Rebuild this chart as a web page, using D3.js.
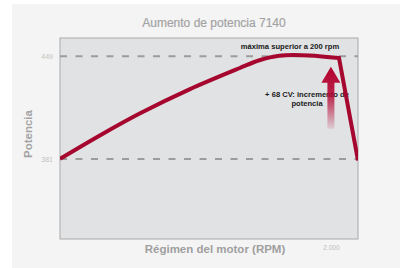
<!DOCTYPE html>
<html>
<head>
<meta charset="utf-8">
<script src="https://cdn.jsdelivr.net/npm/d3@7"></script>
<style>
  body { margin: 0; background: #fff; }
  svg text { font-family: "Liberation Sans", Arial, sans-serif; }
</style>
</head>
<body>
<svg id="chart" width="404" height="268"></svg>
<script>
// engine speed (rpm) and power curve
var rpm   = [1000, 1147, 1294, 1478, 1662, 1736, 1809, 1920, 2030, 2100];
var power = [381, 396.5, 411, 427, 441, 446.3, 449.3, 449.5, 447.7, 380];
var yTicks = [381, 449];
var xTicks = [2000];
var boost = {rpm: 2000, from: 401, to: 442};

var svg = d3.select('#chart');

var margin = {left: 60, top: 38, right: 46, bottom: 29},
    width = 404 - margin.left - margin.right,
    height = 268 - margin.top - margin.bottom;

var x = d3.scaleLinear().domain([1000, 2100]).range([0, width]);
var y = d3.scaleLinear().domain([328, 461]).range([height, 0]);

// outer light panel
svg.append('rect')
    .attr('x', 12).attr('y', 4)
    .attr('width', 388).attr('height', 264)
    .attr('fill', '#f4f4f4');

svg.append('text')
    .attr('x', 214).attr('y', 27)
    .attr('text-anchor', 'middle')
    .attr('font-size', 12)
    .attr('fill', '#a3a3a3')
    .attr('stroke', '#a3a3a3')
    .attr('stroke-width', 0.2)
    .text('Aumento de potencia 7140');

var defs = svg.append('defs');
defs.append('clipPath').attr('id', 'clip')
  .append('rect').attr('width', width).attr('height', height);

var grad = defs.append('linearGradient')
    .attr('id', 'arrowGrad')
    .attr('x1', '0%').attr('y1', '0%')
    .attr('x2', '0%').attr('y2', '100%');
grad.append('stop').attr('offset', '0%').attr('stop-color', '#b3002d').attr('stop-opacity', 1);
grad.append('stop').attr('offset', '45%').attr('stop-color', '#b3002d').attr('stop-opacity', 0.85);
grad.append('stop').attr('offset', '100%').attr('stop-color', '#b3002d').attr('stop-opacity', 0.1);

var g = svg.append('g')
    .attr('transform', 'translate(' + margin.left + ',' + margin.top + ')');

g.append('rect')
    .attr('width', width).attr('height', height)
    .attr('fill', '#e1e2e4')
    .attr('stroke', '#a9a9a9')
    .attr('stroke-width', 1);

// dashed reference lines
g.selectAll('.ref')
    .data(yTicks)
  .enter().append('line')
    .attr('class', 'ref')
    .attr('x1', 0).attr('x2', width)
    .attr('y1', d => y(d)).attr('y2', d => y(d))
    .attr('stroke', '#9c9c9c')
    .attr('stroke-width', 2)
    .attr('stroke-dasharray', '7,8.5');

// y tick labels
var yAxis = d3.axisLeft(y).tickValues(yTicks).tickSize(0).tickPadding(7);
var ya = g.append('g').call(yAxis);
ya.select('.domain').remove();
ya.selectAll('text')
    .attr('font-family', '"DejaVu Serif", serif')
    .attr('font-size', 7)
    .attr('fill', '#c2c2c2');

// x tick label
var xAxis = d3.axisBottom(x).tickValues(xTicks).tickSize(0).tickPadding(6)
    .tickFormat(d => d3.format(',')(d).replace(',', '.'));
var xa = g.append('g').attr('transform', 'translate(0,' + height + ')').call(xAxis);
xa.select('.domain').remove();
xa.selectAll('text')
    .attr('font-size', 6.5)
    .attr('fill', '#bdbdbd');

// axis titles
svg.append('text')
    .attr('transform', 'translate(32,134) rotate(-90)')
    .attr('text-anchor', 'middle')
    .attr('font-size', 11.5)
    .attr('font-weight', 'bold')
    .attr('fill', '#a3a3a3')
    .text('Potencia');

svg.append('text')
    .attr('x', 215).attr('y', 253)
    .attr('text-anchor', 'middle')
    .attr('font-size', 11.5)
    .attr('font-weight', 'bold')
    .attr('fill', '#9f9f9f')
    .text('Régimen del motor (RPM)');

// annotations (drawn beneath the arrow and curve)
g.append('text')
    .attr('x', 230).attr('y', 11)
    .attr('text-anchor', 'middle')
    .attr('font-size', 7.6)
    .attr('font-weight', 'bold')
    .attr('fill', '#1a1a1a')
    .text('máxima superior a 200 rpm');

var note = g.append('text')
    .attr('text-anchor', 'middle')
    .attr('font-size', 7.6)
    .attr('font-weight', 'bold')
    .attr('fill', '#1a1a1a');
note.append('tspan').attr('x', 247).attr('y', 59).text('+ 68 CV: incremento de');
note.append('tspan').attr('x', 247).attr('y', 67.5).text('potencia');

// boost arrow
var ax = x(boost.rpm), aTop = y(boost.to), aBot = y(boost.from);
var headH = 16, headW = 9.5, shaftW = 3.5;
g.append('path')
    .attr('d', 'M' + ax + ',' + aTop +
        'L' + (ax + headW) + ',' + (aTop + headH) +
        'L' + (ax + shaftW) + ',' + (aTop + headH) +
        'L' + (ax + shaftW) + ',' + aBot +
        'L' + (ax - shaftW) + ',' + aBot +
        'L' + (ax - shaftW) + ',' + (aTop + headH) +
        'L' + (ax - headW) + ',' + (aTop + headH) + 'Z')
    .attr('fill', 'url(#arrowGrad)');

// power curve: smooth rise and plateau, then a straight drop
var n = rpm.length;
var pts = rpm.map((r, i) => [x(r), y(power[i])]);

var smooth = d3.line().curve(d3.curveCatmullRom.alpha(0.5));
var straight = d3.line();

var curveG = g.append('g').attr('clip-path', 'url(#clip)');
curveG.append('path')
    .attr('d', smooth(pts.slice(0, n - 1)) + straight(pts.slice(n - 2)).replace('M', 'L'))
    .attr('fill', 'none')
    .attr('stroke', '#a5072e')
    .attr('stroke-width', 4)
    .attr('stroke-linejoin', 'miter');
</script>
</body>
</html>
